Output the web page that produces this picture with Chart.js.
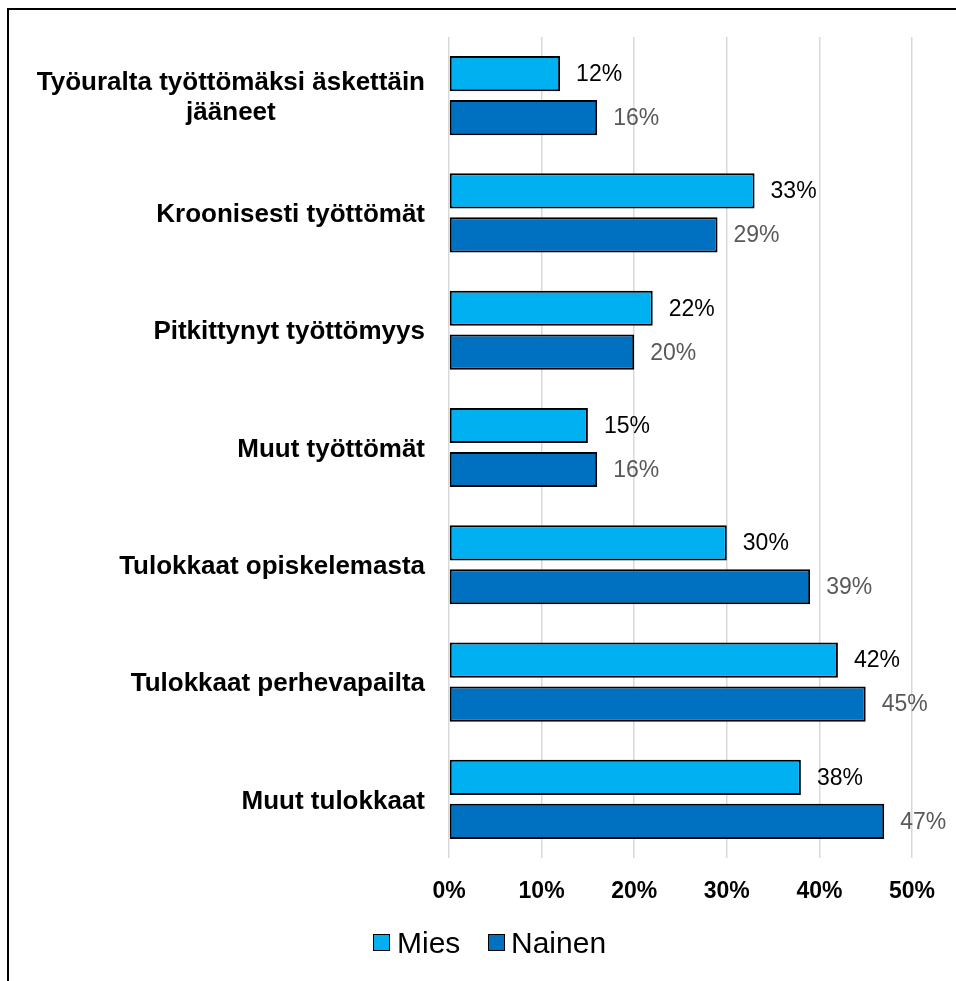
<!DOCTYPE html>
<html>
<head>
<meta charset="utf-8">
<style>
    body { margin: 0; background: #fff; font-family: 'Liberation Sans', Arial, sans-serif; }
    #frame { position: absolute; left: 7px; top: 8px; width: 1000px; height: 1000px; border: 2px solid #000; }
    #wrap { position: absolute; left: 0; top: 0; width: 956px; height: 930px; }
    #legend { position: absolute; left: 0; top: 925px; width: 956px; height: 36px; font-size: 30px; color: #000; }
    .item { position: absolute; top: 0; line-height: 36px; }
    .box { position: absolute; top: 9px; width: 15px; height: 15px; border: 1.5px solid #000; }
</style>
</head>
<body>
<div id="frame"></div>
<div id="wrap">
    <canvas id="gender-chart" width="956" height="930"></canvas>
</div>
<div id="legend">
    <span class="box" style="left:373px;background:#00B0F0"></span><span class="item" style="left:397px">Mies</span>
    <span class="box" style="left:488px;background:#0070C0"></span><span class="item" style="left:511px">Nainen</span>
</div>

<script src="https://cdn.jsdelivr.net/npm/chart.js"></script>

<script>
    const categories = [
        ['Työuralta työttömäksi äskettäin', 'jääneet'],
        ['Kroonisesti työttömät'],
        ['Pitkittynyt työttömyys'],
        ['Muut työttömät'],
        ['Tulokkaat opiskelemasta'],
        ['Tulokkaat perhevapailta'],
        ['Muut tulokkaat']
    ];
    const mies = [12, 33, 22, 15, 30, 42, 38];
    const nainen = [16, 29, 20, 16, 39, 45, 47];
    const tickLabels = ['0%', '10%', '20%', '30%', '40%', '50%'];

    const font = "'Liberation Sans', Arial, sans-serif";

    // value labels at the end of each bar
    const valueLabels = {
        id: 'valueLabels',
        afterDatasetsDraw(chart) {
            const ctx = chart.ctx;
            ctx.save();
            ctx.font = '23px ' + font;
            ctx.textBaseline = 'middle';
            ctx.textAlign = 'left';
            chart.data.datasets.forEach((ds, i) => {
                ctx.fillStyle = i === 0 ? '#000000' : '#595959';
                chart.getDatasetMeta(i).data.forEach((bar, j) => {
                    ctx.fillText(ds.data[j] + '%', bar.x + 16, bar.y + 1);
                });
            });
            ctx.restore();
        }
    };

    // category labels, right aligned as a block, lines centred
    const categoryLabels = {
        id: 'categoryLabels',
        afterDraw(chart) {
            const ctx = chart.ctx;
            const y = chart.scales.y;
            ctx.save();
            ctx.font = 'bold 26px ' + font;
            ctx.fillStyle = '#000';
            ctx.textBaseline = 'middle';
            ctx.textAlign = 'center';
            const right = chart.chartArea.left - 24;
            const lh = 30;
            categories.forEach((lines, i) => {
                const w = Math.max(...lines.map(l => ctx.measureText(l).width));
                const cx = right - w / 2;
                const cy = y.getPixelForValue(i);
                lines.forEach((l, k) => {
                    ctx.fillText(l, cx, cy + (k - (lines.length - 1) / 2) * lh + 2);
                });
            });
            ctx.restore();
        }
    };

    const ctx = document.getElementById('gender-chart');

    new Chart(ctx, {
        type: 'bar',
        data: {
            labels: categories.map(c => c.join(' ')),
            datasets: [
                {
                    label: 'Mies',
                    data: mies,
                    backgroundColor: '#00B0F0',
                    borderColor: '#000000',
                    borderWidth: 2,
                    borderSkipped: false,
                    categoryPercentage: 0.75,
                    barPercentage: 0.8
                },
                {
                    label: 'Nainen',
                    data: nainen,
                    backgroundColor: '#0070C0',
                    borderColor: '#000000',
                    borderWidth: 2,
                    borderSkipped: false,
                    categoryPercentage: 0.75,
                    barPercentage: 0.8
                }
            ]
        },
        options: {
            indexAxis: 'y',
            responsive: false,
            animation: false,
            layout: {
                padding: { left: 449, top: 37, right: 44, bottom: 10 }
            },
            plugins: {
                legend: { display: false },
                tooltip: { enabled: false }
            },
            scales: {
                x: {
                    min: 0,
                    max: 50,
                    grid: { color: '#d9d9d9', lineWidth: 1.5, drawTicks: false },
                    border: { display: false },
                    afterFit: (scale) => { scale.height = 62; },
                    ticks: {
                        stepSize: 10,
                        padding: 20,
                        color: '#000',
                        font: { family: font, size: 23, weight: 'bold' },
                        callback: (value, index) => tickLabels[index]
                    }
                },
                y: {
                    display: false
                }
            }
        },
        plugins: [valueLabels, categoryLabels]
    });
</script>
</body>
</html>
